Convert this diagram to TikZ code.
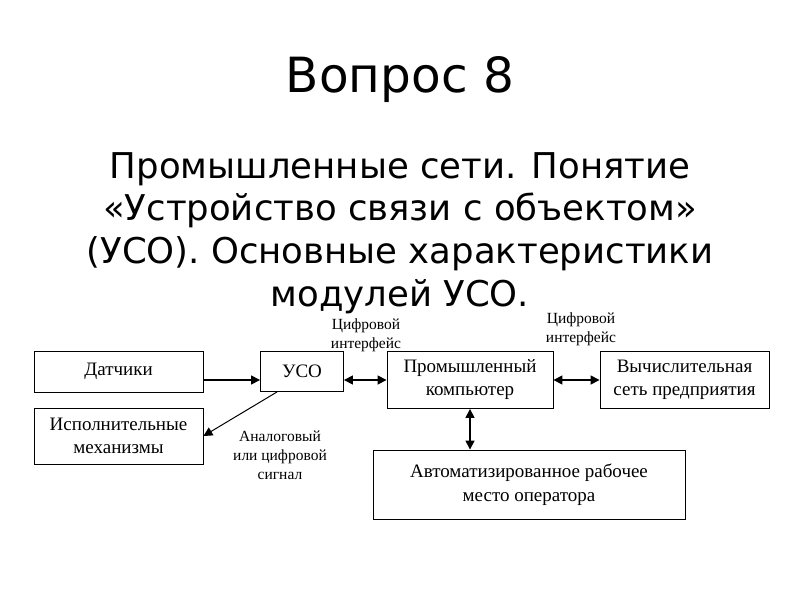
\documentclass[tikz,border=0pt]{standalone}
\usepackage{fontspec}
\setmainfont{Liberation Serif}
\newfontfamily\subfont{DejaVu Sans}
\usetikzlibrary{arrows.meta,calc}
\begin{document}
\begin{tikzpicture}[x=1pt,y=-1pt,
  box/.style={draw,line width=0.9pt,inner sep=0pt,align=center,font=\fontsize{19}{23}\selectfont},
  arr/.style={line width=1.6pt,-{Triangle[length=9pt,width=9pt]}},
  darr/.style={line width=1.6pt,{Triangle[length=9pt,width=9pt]}-{Triangle[length=9pt,width=9pt]}},
  lbl/.style={align=center,inner sep=0pt,font=\fontsize{15.5}{19}\selectfont}]
\useasboundingbox (0,0) rectangle (800,600);
\node[font=\subfont\fontsize{48.5}{50}\selectfont] (title) at (400,80) {Вопрос 8};
\node[font=\subfont\fontsize{35.5}{42.6}\selectfont,align=center,inner sep=0pt] (sub) at (400,233)
  {Промышленные сети. Понятие\\«Устройство связи с объектом»\\(УСО). Основные характеристики\\модулей УСО.};
\coordinate (ly) at (0,380);
\node[box,minimum width=169pt,minimum height=41pt] (dat) at (118.5,371.5) {Датчики};
\node[box,minimum width=169pt,minimum height=56pt] (isp) at (118.5,436) {Исполнительные\\механизмы};
\node[box,minimum width=83pt,minimum height=40pt] (uso) at (302,371.5) {УСО};
\node[box,minimum width=166pt,minimum height=57pt] (prom) at (470,380) {Промышленный\\компьютер};
\node[box,minimum width=169pt,minimum height=57pt] (vych) at (684.5,380) {Вычислительная\\сеть предприятия};
\node[box,minimum width=312pt,minimum height=69pt] (arm) at (529,484.5) {\raisebox{5pt}{\begin{tabular}{@{}c@{}}Автоматизированное рабочее\\[1pt]место оператора\end{tabular}}};
\node[lbl] (l1) at (366,335) {Цифровой\\интерфейс};
\node[lbl] (l2) at (581,329) {Цифровой\\интерфейс};
\node[lbl] (l3) at (280,455) {Аналоговый\\или цифровой\\сигнал};
\coordinate (us) at ($(uso.south)+(-25,0)$);
\draw[arr] (dat.east |- ly) -- (uso.west |- ly);
\draw[darr] (uso.east |- ly) -- (prom.west |- ly);
\draw[darr] (prom.east) -- (vych.west);
\draw[darr] (prom.south) -- (arm.north -| prom.south);
\draw[line width=1pt,-{Triangle[length=9pt,width=9pt]}] (us) -- (isp.east);
\end{tikzpicture}
\end{document}
